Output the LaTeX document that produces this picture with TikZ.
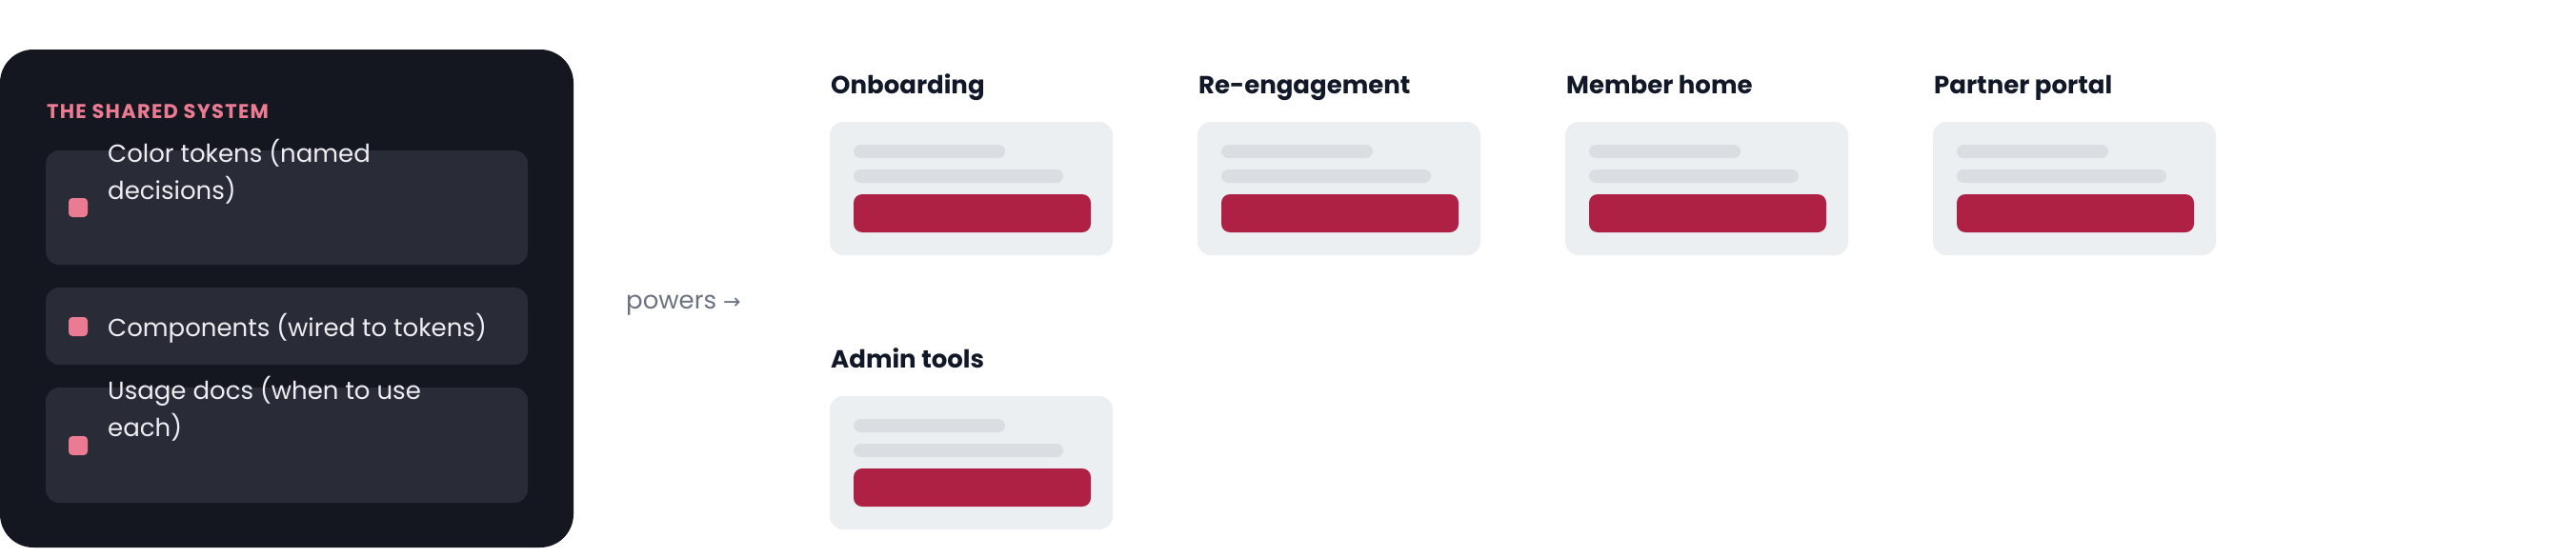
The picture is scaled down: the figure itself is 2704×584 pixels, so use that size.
\documentclass[tikz,border=0pt]{standalone}
\usepackage{fontspec}
\setmainfont{Poppins}
\newfontfamily\arrowfont{DejaVu Sans}
\definecolor{panel}{HTML}{151720}
\definecolor{item}{HTML}{292B37}
\definecolor{pinkc}{HTML}{EB7B92}
\definecolor{itemtxt}{HTML}{EEEEF2}
\definecolor{graytxt}{HTML}{6B7280}
\definecolor{headtxt}{HTML}{111827}
\definecolor{cardbg}{HTML}{ECEFF2}
\definecolor{barc}{HTML}{DADDE2}
\definecolor{btnc}{HTML}{AF2144}
\begin{document}
\begin{tikzpicture}[x=1pt,y=-1pt,
  itembox/.style={fill=item,rounded corners=14pt},
  bullet/.style={fill=pinkc,rounded corners=4pt},
  itemtext/.style={anchor=base west,inner sep=0,text=itemtxt,font=\fontsize{26}{39}\selectfont,align=left},
  cardhead/.style={anchor=base west,inner sep=0,text=headtxt,font=\fontsize{26}{30}\selectfont\bfseries},
  card/.style={fill=cardbg,rounded corners=14pt},
  bar/.style={fill=barc,rounded corners=7pt},
  btn/.style={fill=btnc,rounded corners=9pt}]
\useasboundingbox (0,0) rectangle (2704,584);
\fill[white] (0,0) rectangle (2704,584);
\fill[panel,rounded corners=35pt] (0,52) rectangle (602,575);
\node[anchor=base west,inner sep=0,text=pinkc,font=\fontsize{21}{24}\selectfont\bfseries\addfontfeature{LetterSpace=6}] (title) at (49,124) {THE SHARED SYSTEM};
% items
\fill[itembox] (48,158) rectangle (554,278);
\fill[bullet] (72,208) rectangle (92,228);
\node[itemtext] (i1) at (113,209) {Color tokens (named\\decisions)};
\fill[itembox] (48,302) rectangle (554,383);
\fill[bullet] (72,333) rectangle (92,353);
\node[itemtext] (i2) at (113,353) {Components (wired to tokens)};
\fill[itembox] (48,407) rectangle (554,528);
\fill[bullet] (72,458) rectangle (92,478);
\node[itemtext] (i3) at (113,458) {Usage docs (when to use\\each)};
\node[anchor=base west,inner sep=0,text=graytxt,font=\fontsize{26}{30}\selectfont] (pw) at (657,324) {powers {\arrowfont\fontsize{22}{26}\selectfont →}};
% cards
\foreach \x/\y/\t/\n in {871/0/Onboarding/c1,1257/0/Re-engagement/c2,1643/0/Member home/c3,2029/0/Partner portal/c4,871/288/Admin tools/c5}{
  \node[cardhead] (\n) at (\x+1,98+\y) {\t};
  \fill[card] (\x,128+\y) rectangle (\x+297,268+\y);
  \fill[bar] (\x+25,152+\y) rectangle (\x+184,166+\y);
  \fill[bar] (\x+25,178+\y) rectangle (\x+245,192+\y);
  \fill[btn] (\x+25,204+\y) rectangle (\x+274,244+\y);
}
\end{tikzpicture}
\end{document}
